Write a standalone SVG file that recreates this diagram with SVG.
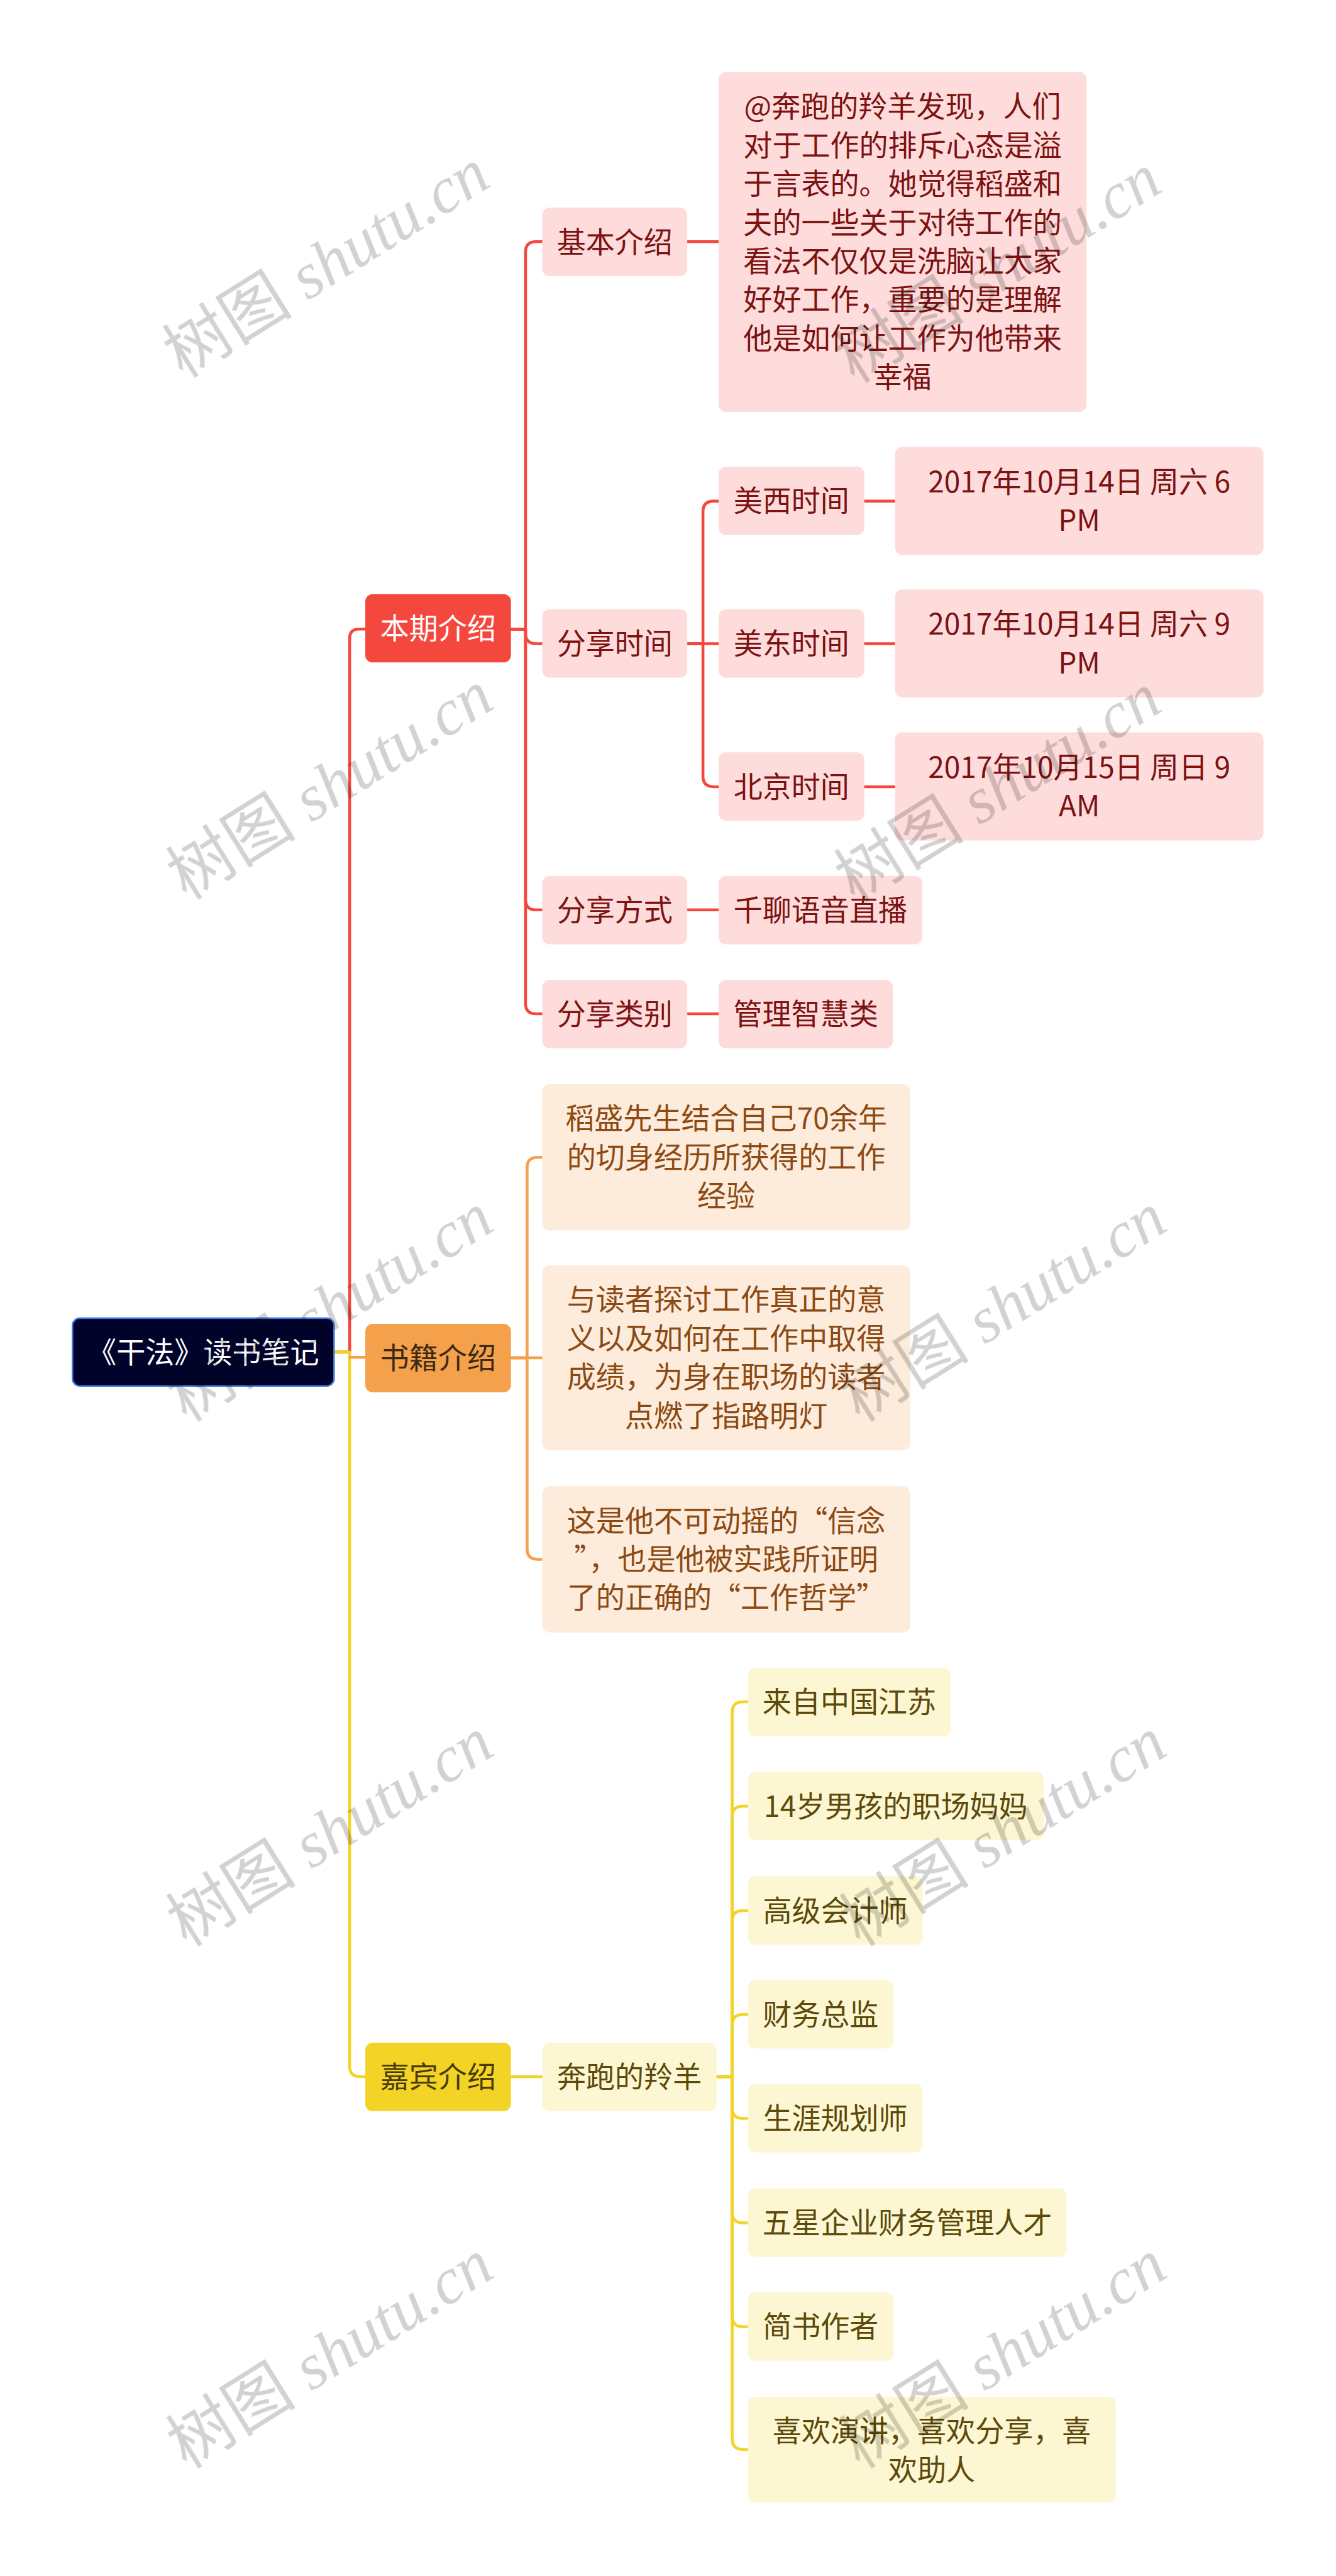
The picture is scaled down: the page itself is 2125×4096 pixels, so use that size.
<svg xmlns="http://www.w3.org/2000/svg" width="2125" height="4096" viewBox="0 0 2125 4096">
<style>
text{font-family:"Noto Sans CJK SC","Noto Sans",sans-serif;font-size:55.5px;text-anchor:middle}
.c{fill:none;stroke-width:5.5;stroke-linecap:round;stroke-linejoin:round}
.cr{stroke:#f4473d}.co{stroke:#f5a04b}.cy{stroke:#f2d326}
.pk rect{fill:#fddcdb}.pk text{fill:#7d1212}
.pc rect{fill:#fdebdc}.pc text{fill:#8c4a12}
.ly rect{fill:#fdf6d2}.ly text{fill:#5c4a0a}
#watermarks{mix-blend-mode:multiply}
.wm{font-family:"Liberation Serif","Noto Sans CJK SC",serif;font-size:125px;fill:#d2d2d2}
</style>
<rect width="2125" height="4096" fill="#ffffff"/>
<g transform="scale(0.830078)">
<g id="connectors">
<path class="c cr" d="M640,2590 H670 V1223 Q670,1205 688,1205 H700"/>
<path class="c cy" d="M640,2590 H670 V3958 Q670,3978 690,3978 H700"/>
<path class="c co" d="M670,2600 H700"/>
<path class="c cr" d="M979,1205 H1007 V483 Q1007,463 1027,463 H1039"/>
<path class="c cr" d="M979,1205 H1007 V1213 Q1007,1233 1027,1233 H1039"/>
<path class="c cr" d="M979,1205 H1007 V1723 Q1007,1743 1027,1743 H1039"/>
<path class="c cr" d="M979,1205 H1007 V1922 Q1007,1942 1027,1942 H1039"/>
<path class="c cr" d="M1317,463 H1377"/>
<path class="c cr" d="M1317,1233 H1347 V980 Q1347,960 1367,960 H1377"/>
<path class="c cr" d="M1317,1233 H1377"/>
<path class="c cr" d="M1317,1233 H1347 V1487 Q1347,1507 1367,1507 H1377"/>
<path class="c cr" d="M1317,1743 H1377"/>
<path class="c cr" d="M1317,1942 H1377"/>
<path class="c cr" d="M1656,960 H1715"/>
<path class="c cr" d="M1656,1233 H1715"/>
<path class="c cr" d="M1656,1507 H1715"/>
<path class="c co" d="M979,2601 H1010 V2237 Q1010,2217 1030,2217 H1039"/>
<path class="c co" d="M979,2601 H1039"/>
<path class="c co" d="M979,2601 H1010 V2967 Q1010,2987 1030,2987 H1039"/>
<path class="c cy" d="M979,3978 H1039"/>
<path class="c cy" d="M1373,3978 H1403 V3280 Q1403,3260 1423,3260 H1433"/>
<path class="c cy" d="M1373,3978 H1403 V3480 Q1403,3460 1423,3460 H1433"/>
<path class="c cy" d="M1373,3978 H1403 V3680 Q1403,3660 1423,3660 H1433"/>
<path class="c cy" d="M1373,3978 H1403 V3879 Q1403,3859 1423,3859 H1433"/>
<path class="c cy" d="M1373,3978 H1403 V4038 Q1403,4058 1423,4058 H1433"/>
<path class="c cy" d="M1373,3978 H1403 V4238 Q1403,4258 1423,4258 H1433"/>
<path class="c cy" d="M1373,3978 H1403 V4437 Q1403,4457 1423,4457 H1433"/>
<path class="c cy" d="M1373,3978 H1403 V4672 Q1403,4692 1423,4692 H1433"/>
</g>
<g id="root">
<rect x="139" y="2525" width="501" height="130" rx="14" fill="#02032b" stroke="#3d74d6" stroke-width="3"/>
<text x="389.5" y="2610" fill="#ffffff">《干法》读书笔记</text>
</g>
<g id="n-benqi"><rect x="700" y="1138" width="279" height="131" rx="14" fill="#f4473d"/><text x="839.5" y="1224" fill="#ffffff">本期介绍</text></g>
<g id="n-shuji"><rect x="700" y="2536" width="279" height="131" rx="14" fill="#f5a04b"/><text x="839.5" y="2622" fill="#3b2a14">书籍介绍</text></g>
<g id="n-jiabin"><rect x="700" y="3913" width="279" height="131" rx="14" fill="#f2d326"/><text x="839.5" y="3999" fill="#4a3c06">嘉宾介绍</text></g>

<g id="n-jiben" class="pk"><rect x="1039" y="398" width="278" height="131" rx="14"/><text x="1178" y="484">基本介绍</text></g>
<g id="n-jiben-desc" class="pk"><rect x="1377" y="138" width="705" height="651" rx="14"/>
<text x="1729.5" y="224.5"><tspan x="1729.5">@奔跑的羚羊发现，人们</tspan><tspan x="1729.5" dy="74">对于工作的排斥心态是溢</tspan><tspan x="1729.5" dy="74">于言表的。她觉得稻盛和</tspan><tspan x="1729.5" dy="74">夫的一些关于对待工作的</tspan><tspan x="1729.5" dy="74">看法不仅仅是洗脑让大家</tspan><tspan x="1729.5" dy="74">好好工作，重要的是理解</tspan><tspan x="1729.5" dy="74">他是如何让工作为他带来</tspan><tspan x="1729.5" dy="74">幸福</tspan></text></g>
<g id="n-shijian" class="pk"><rect x="1039" y="1167" width="278" height="131" rx="14"/><text x="1178" y="1253">分享时间</text></g>
<g id="n-meixi" class="pk"><rect x="1377" y="894" width="279" height="131" rx="14"/><text x="1516.5" y="980">美西时间</text></g>
<g id="n-meidong" class="pk"><rect x="1377" y="1167" width="279" height="131" rx="14"/><text x="1516.5" y="1253">美东时间</text></g>
<g id="n-beijing" class="pk"><rect x="1377" y="1441" width="279" height="131" rx="14"/><text x="1516.5" y="1527">北京时间</text></g>
<g id="n-t1" class="pk"><rect x="1715" y="856" width="706" height="207" rx="14"/><text x="2068" y="943"><tspan x="2068">2017年10月14日 周六 6</tspan><tspan x="2068" dy="74">PM</tspan></text></g>
<g id="n-t2" class="pk"><rect x="1715" y="1129" width="706" height="207" rx="14"/><text x="2068" y="1216"><tspan x="2068">2017年10月14日 周六 9</tspan><tspan x="2068" dy="74">PM</tspan></text></g>
<g id="n-t3" class="pk"><rect x="1715" y="1403" width="706" height="207" rx="14"/><text x="2068" y="1490"><tspan x="2068">2017年10月15日 周日 9</tspan><tspan x="2068" dy="74">AM</tspan></text></g>
<g id="n-fangshi" class="pk"><rect x="1039" y="1678" width="278" height="131" rx="14"/><text x="1178" y="1764">分享方式</text></g>
<g id="n-qianliao" class="pk"><rect x="1377" y="1678" width="390" height="131" rx="14"/><text x="1572" y="1764">千聊语音直播</text></g>
<g id="n-leibie" class="pk"><rect x="1039" y="1877" width="278" height="131" rx="14"/><text x="1178" y="1963">分享类别</text></g>
<g id="n-guanli" class="pk"><rect x="1377" y="1877" width="334" height="131" rx="14"/><text x="1544" y="1963">管理智慧类</text></g>

<g id="n-b1" class="pc"><rect x="1039" y="2077" width="705" height="280" rx="14"/><text x="1391.5" y="2163"><tspan x="1391.5">稻盛先生结合自己70余年</tspan><tspan x="1391.5" dy="74">的切身经历所获得的工作</tspan><tspan x="1391.5" dy="74">经验</tspan></text></g>
<g id="n-b2" class="pc"><rect x="1039" y="2424" width="705" height="354" rx="14"/><text x="1391.5" y="2510"><tspan x="1391.5">与读者探讨工作真正的意</tspan><tspan x="1391.5" dy="74">义以及如何在工作中取得</tspan><tspan x="1391.5" dy="74">成绩，为身在职场的读者</tspan><tspan x="1391.5" dy="74">点燃了指路明灯</tspan></text></g>
<g id="n-b3" class="pc"><rect x="1039" y="2847" width="705" height="280" rx="14"/><text x="1391.5" y="2933"><tspan x="1391.5">这是他不可动摇的“信念</tspan><tspan x="1391.5" dy="74">”，也是他被实践所证明</tspan><tspan x="1391.5" dy="74">了的正确的“工作哲学”</tspan></text></g>

<g id="n-guest" class="ly"><rect x="1039" y="3913" width="334" height="131" rx="14"/><text x="1206" y="3999">奔跑的羚羊</text></g>
<g id="n-g1" class="ly"><rect x="1433" y="3195" width="389" height="131" rx="14"/><text x="1627.5" y="3281">来自中国江苏</text></g>
<g id="n-g2" class="ly"><rect x="1433" y="3394" width="567" height="131" rx="14"/><text x="1716.5" y="3480">14岁男孩的职场妈妈</text></g>
<g id="n-g3" class="ly"><rect x="1433" y="3594" width="335" height="131" rx="14"/><text x="1600.5" y="3680">高级会计师</text></g>
<g id="n-g4" class="ly"><rect x="1433" y="3793" width="279" height="131" rx="14"/><text x="1572.5" y="3879">财务总监</text></g>
<g id="n-g5" class="ly"><rect x="1433" y="3992" width="335" height="131" rx="14"/><text x="1600.5" y="4078">生涯规划师</text></g>
<g id="n-g6" class="ly"><rect x="1433" y="4192" width="611" height="131" rx="14"/><text x="1738.5" y="4278">五星企业财务管理人才</text></g>
<g id="n-g7" class="ly"><rect x="1433" y="4391" width="279" height="131" rx="14"/><text x="1572.5" y="4477">简书作者</text></g>
<g id="n-g8" class="ly"><rect x="1433" y="4591" width="705" height="203" rx="14"/><text x="1785.5" y="4677"><tspan x="1785.5">喜欢演讲，喜欢分享，喜</tspan><tspan x="1785.5" dy="74">欢助人</tspan></text></g>

<g id="watermarks">
<text class="wm" transform="translate(648,540) rotate(-32)">树图 <tspan font-style="italic">shutu.cn</tspan></text>
<text class="wm" transform="translate(1935,550) rotate(-32)">树图 <tspan font-style="italic">shutu.cn</tspan></text>
<text class="wm" transform="translate(655,1540) rotate(-32)">树图 <tspan font-style="italic">shutu.cn</tspan></text>
<text class="wm" transform="translate(1935,1545) rotate(-32)">树图 <tspan font-style="italic">shutu.cn</tspan></text>
<text class="wm" transform="translate(655,2540) rotate(-32)">树图 <tspan font-style="italic">shutu.cn</tspan></text>
<text class="wm" transform="translate(1945,2540) rotate(-32)">树图 <tspan font-style="italic">shutu.cn</tspan></text>
<text class="wm" transform="translate(655,3545) rotate(-32)">树图 <tspan font-style="italic">shutu.cn</tspan></text>
<text class="wm" transform="translate(1945,3545) rotate(-32)">树图 <tspan font-style="italic">shutu.cn</tspan></text>
<text class="wm" transform="translate(655,4545) rotate(-32)">树图 <tspan font-style="italic">shutu.cn</tspan></text>
<text class="wm" transform="translate(1945,4545) rotate(-32)">树图 <tspan font-style="italic">shutu.cn</tspan></text>
</g>
</g>
</svg>
